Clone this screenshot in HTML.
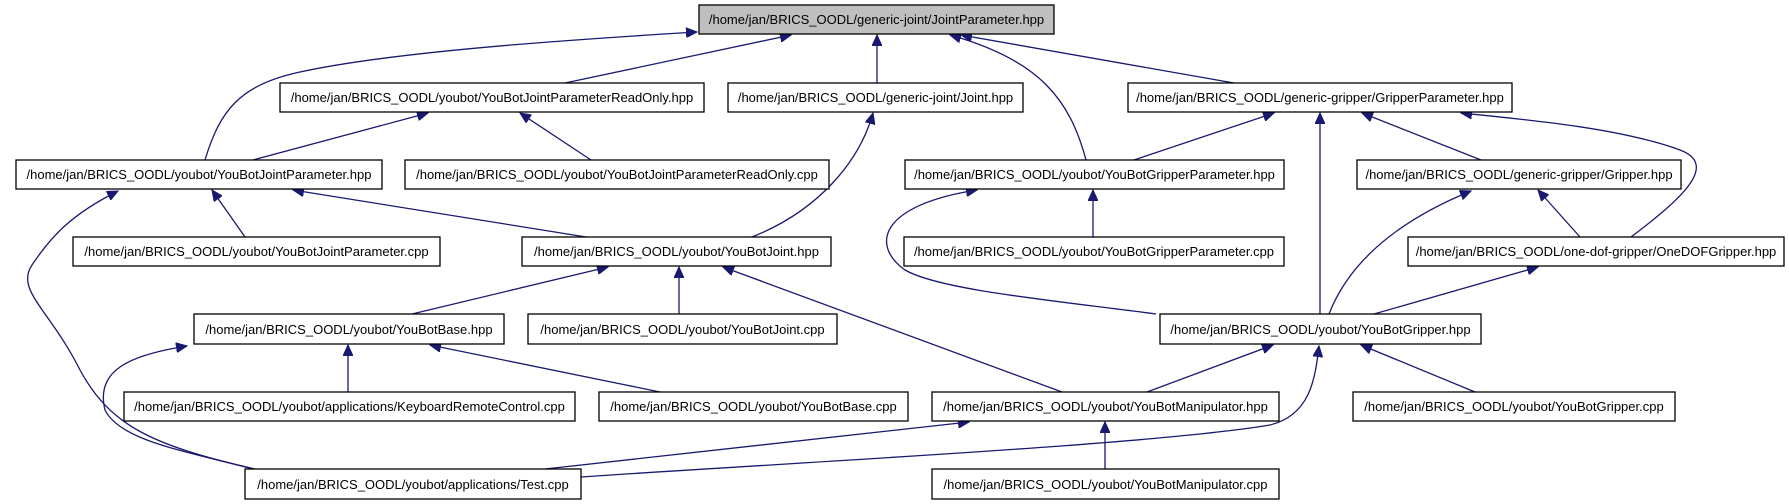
<!DOCTYPE html>
<html><head><meta charset="utf-8"><style>
html,body{margin:0;padding:0;background:#fff;width:1789px;height:504px;overflow:hidden}
svg{display:block}
text{font-family:"Liberation Sans",sans-serif;font-size:13px;fill:#000}
rect{stroke:#000;stroke-width:1.3;fill:#fff}
path{fill:none;stroke:#191970;stroke-width:1.3}
</style></head><body>
<svg width="1789" height="504" viewBox="0 0 1789 504">
<defs><marker id="a" markerWidth="12" markerHeight="10" refX="11" refY="5" orient="auto" markerUnits="userSpaceOnUse"><path d="M0,0 L11,5 L0,10 Z" style="fill:#191970;stroke:#191970;stroke-width:1"/></marker></defs>
<g marker-end="url(#a)">
<path d="M205,160 C220,110 240,85 300,72 C400,50 600,38 697,32"/>
<path d="M565,83 L791,35"/>
<path d="M877,83 L877,35"/>
<path d="M1086,160 C1070,100 1040,60 950,35"/>
<path d="M1234,83 L961,35"/>
<path d="M253,160 L428,113"/>
<path d="M591,160 L520,113"/>
<path d="M752,237 C820,210 860,160 873,113"/>
<path d="M1134,160 L1274,113"/>
<path d="M1320,314 L1320,113"/>
<path d="M1481,160 L1362,113"/>
<path d="M1631,237 C1680,200 1720,165 1680,150 C1620,128 1530,120 1461,113"/>
<path d="M245,237 L212,190"/>
<path d="M586,237 L293,190"/>
<path d="M255,469 C150,445 110,425 80,370 C50,310 15,290 32,265 C50,238 70,215 118,191"/>
<path d="M253,469 C180,450 120,440 105,410 C95,370 130,355 187,346"/>
<path d="M545,469 L969,422"/>
<path d="M581,477 C800,462 1150,445 1270,425 C1310,415 1315,380 1319,346"/>
<path d="M412,314 L608,267"/>
<path d="M679,314 L679,267"/>
<path d="M1062,392 L723,267"/>
<path d="M348,392 L348,345"/>
<path d="M660,392 L430,345"/>
<path d="M1105,469 L1105,422"/>
<path d="M1147,392 L1273,345"/>
<path d="M1475,392 L1361,345"/>
<path d="M1156,314 C1050,300 940,290 905,270 C870,245 880,205 977,190"/>
<path d="M1093,237 L1093,190"/>
<path d="M1329,314 C1350,260 1400,220 1471,191"/>
<path d="M1580,237 L1538,190"/>
<path d="M1374,314 L1538,267"/>
</g>
<g>
<rect x="699" y="5" width="355" height="29" style="fill:#bfbfbf"/><text x="876.5" y="24" text-anchor="middle">/home/jan/BRICS_OODL/generic-joint/JointParameter.hpp</text>
<rect x="280" y="83" width="424" height="29"/><text x="492" y="102" text-anchor="middle">/home/jan/BRICS_OODL/youbot/YouBotJointParameterReadOnly.hpp</text>
<rect x="728" y="83" width="295" height="29"/><text x="875.5" y="102" text-anchor="middle">/home/jan/BRICS_OODL/generic-joint/Joint.hpp</text>
<rect x="1128" y="83" width="384" height="29"/><text x="1320" y="102" text-anchor="middle">/home/jan/BRICS_OODL/generic-gripper/GripperParameter.hpp</text>
<rect x="16" y="160" width="366" height="29"/><text x="199" y="179" text-anchor="middle">/home/jan/BRICS_OODL/youbot/YouBotJointParameter.hpp</text>
<rect x="405" y="160" width="424" height="29"/><text x="617" y="179" text-anchor="middle">/home/jan/BRICS_OODL/youbot/YouBotJointParameterReadOnly.cpp</text>
<rect x="905" y="160" width="379" height="29"/><text x="1094.5" y="179" text-anchor="middle">/home/jan/BRICS_OODL/youbot/YouBotGripperParameter.hpp</text>
<rect x="1357" y="160" width="324" height="29"/><text x="1519" y="179" text-anchor="middle">/home/jan/BRICS_OODL/generic-gripper/Gripper.hpp</text>
<rect x="73" y="237" width="367" height="29"/><text x="256.5" y="256" text-anchor="middle">/home/jan/BRICS_OODL/youbot/YouBotJointParameter.cpp</text>
<rect x="522" y="237" width="309" height="29"/><text x="676.5" y="256" text-anchor="middle">/home/jan/BRICS_OODL/youbot/YouBotJoint.hpp</text>
<rect x="904" y="237" width="380" height="29"/><text x="1094" y="256" text-anchor="middle">/home/jan/BRICS_OODL/youbot/YouBotGripperParameter.cpp</text>
<rect x="1408" y="237" width="376" height="29"/><text x="1596" y="256" text-anchor="middle">/home/jan/BRICS_OODL/one-dof-gripper/OneDOFGripper.hpp</text>
<rect x="194" y="314" width="310" height="30"/><text x="349" y="334" text-anchor="middle">/home/jan/BRICS_OODL/youbot/YouBotBase.hpp</text>
<rect x="528" y="314" width="309" height="30"/><text x="682.5" y="334" text-anchor="middle">/home/jan/BRICS_OODL/youbot/YouBotJoint.cpp</text>
<rect x="1160" y="314" width="321" height="30"/><text x="1320.5" y="334" text-anchor="middle">/home/jan/BRICS_OODL/youbot/YouBotGripper.hpp</text>
<rect x="124" y="392" width="451" height="29"/><text x="349.5" y="411" text-anchor="middle">/home/jan/BRICS_OODL/youbot/applications/KeyboardRemoteControl.cpp</text>
<rect x="599" y="392" width="309" height="29"/><text x="753.5" y="411" text-anchor="middle">/home/jan/BRICS_OODL/youbot/YouBotBase.cpp</text>
<rect x="932" y="392" width="347" height="29"/><text x="1105.5" y="411" text-anchor="middle">/home/jan/BRICS_OODL/youbot/YouBotManipulator.hpp</text>
<rect x="1353" y="392" width="322" height="29"/><text x="1514" y="411" text-anchor="middle">/home/jan/BRICS_OODL/youbot/YouBotGripper.cpp</text>
<rect x="245" y="469" width="336" height="30"/><text x="413" y="489" text-anchor="middle">/home/jan/BRICS_OODL/youbot/applications/Test.cpp</text>
<rect x="932" y="469" width="347" height="30"/><text x="1105.5" y="489" text-anchor="middle">/home/jan/BRICS_OODL/youbot/YouBotManipulator.cpp</text>
</g>
</svg>
</body></html>
